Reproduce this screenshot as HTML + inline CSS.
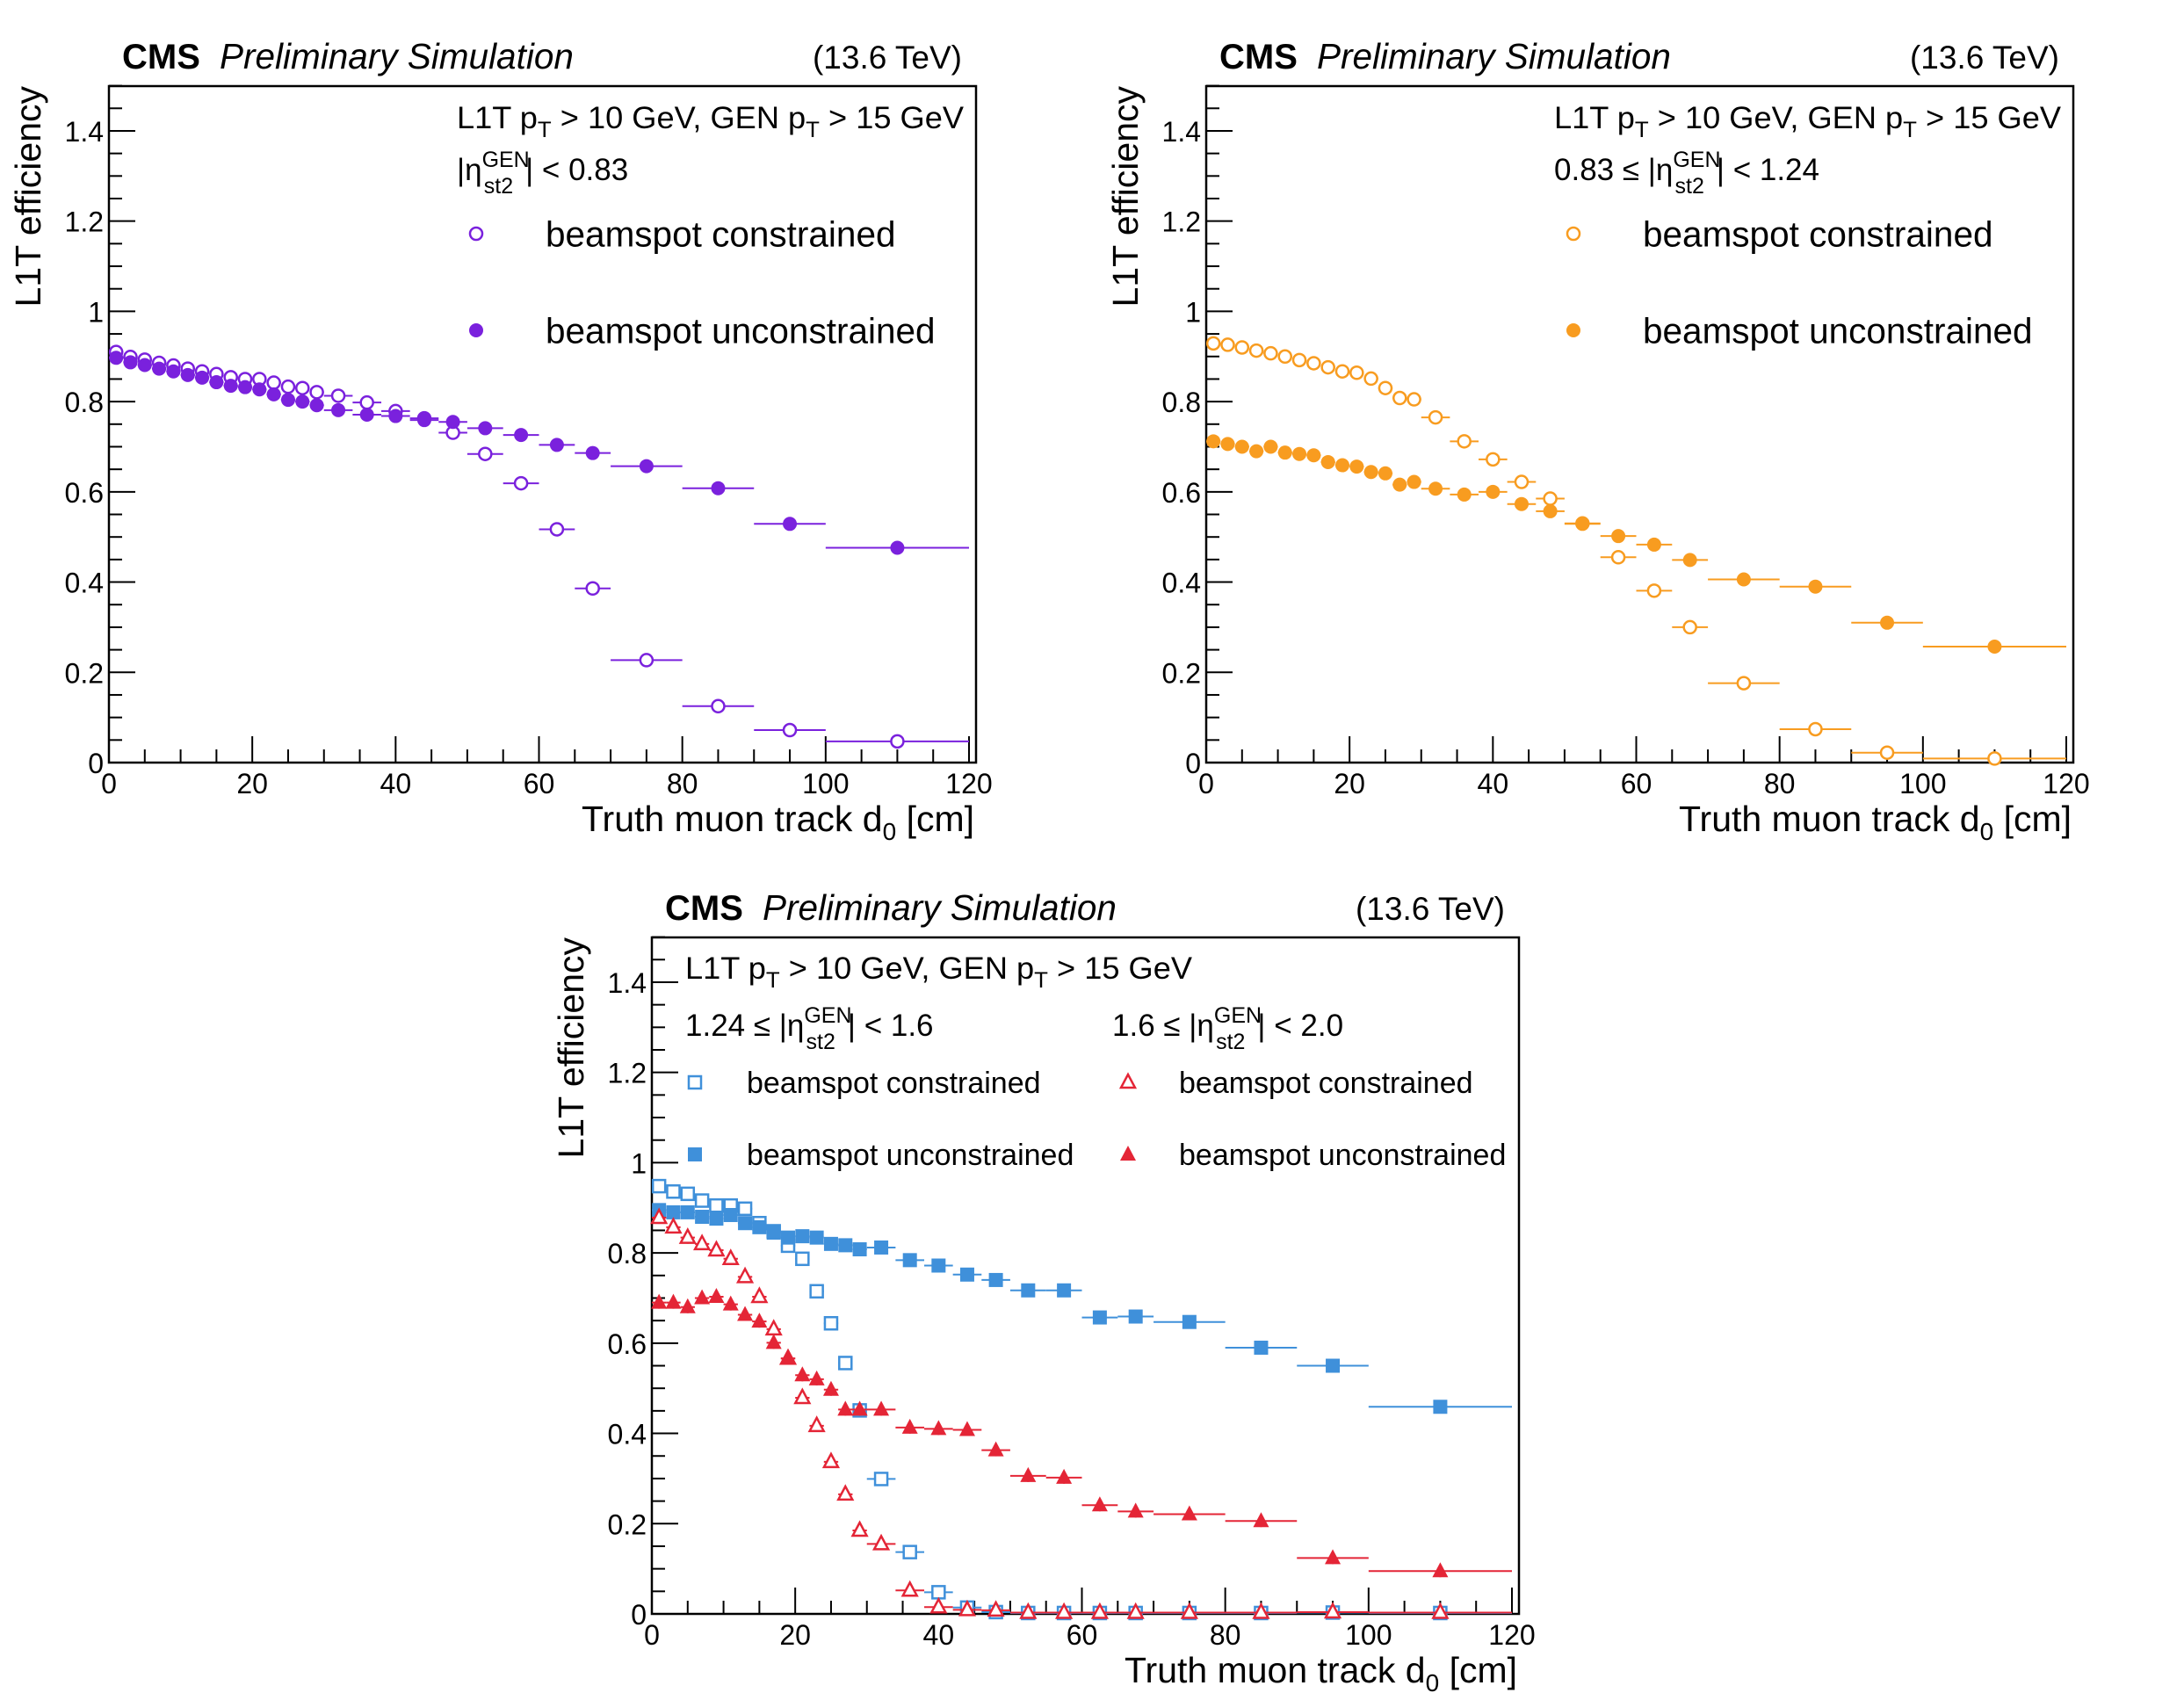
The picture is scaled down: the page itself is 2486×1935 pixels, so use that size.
<!DOCTYPE html>
<html><head><meta charset="utf-8"><style>
html,body{margin:0;padding:0;background:#fff;}
svg{display:block;font-family:"Liberation Sans",Arial,sans-serif;}
</style></head><body>
<svg id="chart" width="2486" height="1935" viewBox="0 0 2486 1935" xmlns="http://www.w3.org/2000/svg"></svg>
<script>
// ---- data ----
const binCenters = [1,3,5,7,9,11,13,15,17,19,21,23,25,27,29,32,36,40,44,48,52.5,57.5,62.5,67.5,75,85,95,110];
const binHalfWidths = [1,1,1,1,1,1,1,1,1,1,1,1,1,1,1,2,2,2,2,2,2.5,2.5,2.5,2.5,5,5,5,10];
const xTicks = [0,20,40,60,80,100,120];
const yTicks = [0,0.2,0.4,0.6,0.8,1,1.2,1.4];
const yTickLabels = ["0","0.2","0.4","0.6","0.8","1","1.2","1.4"];

const p1Constrained = [0.91,0.899,0.893,0.886,0.88,0.873,0.867,0.861,0.854,0.85,0.85,0.842,0.833,0.83,0.821,0.813,0.798,0.779,0.763,0.731,0.684,0.619,0.517,0.386,0.227,0.125,0.072,0.047];
const p1Unconstrained = [0.897,0.887,0.881,0.873,0.867,0.859,0.853,0.843,0.835,0.832,0.827,0.816,0.804,0.8,0.792,0.781,0.771,0.768,0.759,0.755,0.741,0.726,0.704,0.686,0.657,0.608,0.529,0.476];
const p2Constrained = [0.929,0.926,0.92,0.913,0.907,0.9,0.892,0.885,0.876,0.867,0.864,0.851,0.83,0.808,0.805,0.765,0.712,0.672,0.622,0.585,0.53,0.455,0.381,0.3,0.176,0.074,0.022,0.009];
const p2Unconstrained = [0.712,0.706,0.7,0.69,0.7,0.687,0.684,0.681,0.666,0.659,0.656,0.644,0.641,0.616,0.622,0.607,0.594,0.6,0.573,0.557,0.529,0.502,0.483,0.449,0.406,0.39,0.31,0.257];
const p3BlueConstrained = [0.948,0.936,0.931,0.916,0.905,0.905,0.898,0.866,0.848,0.816,0.787,0.715,0.644,0.556,0.451,0.299,0.137,0.048,0.014,0.004,0.002,0.002,0.002,0.002,0.002,0.002,0.003,0.002];
const p3BlueUnconstrained = [0.895,0.89,0.89,0.88,0.876,0.884,0.866,0.857,0.845,0.834,0.837,0.834,0.82,0.817,0.808,0.812,0.784,0.772,0.752,0.74,0.717,0.717,0.657,0.659,0.647,0.59,0.55,0.459];
const p3RedConstrained = [0.878,0.857,0.834,0.82,0.806,0.787,0.747,0.703,0.631,0.566,0.479,0.417,0.337,0.265,0.185,0.155,0.052,0.015,0.009,0.008,0.003,0.003,0.003,0.003,0.003,0.003,0.004,0.003];
const p3RedUnconstrained = [0.69,0.69,0.68,0.7,0.703,0.686,0.663,0.648,0.601,0.566,0.529,0.52,0.497,0.453,0.453,0.453,0.413,0.41,0.408,0.363,0.306,0.302,0.241,0.227,0.221,0.206,0.124,0.095];

const NS="http://www.w3.org/2000/svg";
const svg=document.getElementById('chart');
function mk(tag,attrs,parent){const e=document.createElementNS(NS,tag);for(const k in attrs)e.setAttribute(k,attrs[k]);(parent||svg).appendChild(e);return e;}

const W=987,H=770;
const PXU=979/120, PYU=513.6;

function marker(g,type,color,cx,cy){
  let m;
  if(type==='circleOpen') m=mk('circle',{cx:cx,cy:cy,r:7,fill:'#fff',stroke:color,'stroke-width':2.5},g);
  else if(type==='circle') m=mk('circle',{cx:cx,cy:cy,r:8,fill:color},g);
  else if(type==='squareOpen') m=mk('rect',{x:cx-7,y:cy-7,width:14,height:14,fill:'#fff',stroke:color,'stroke-width':2.5},g);
  else if(type==='square') m=mk('rect',{x:cx-8,y:cy-8,width:16,height:16,fill:color},g);
  else if(type==='triOpen') m=mk('polygon',{points:`${cx},${cy-9} ${cx-8},${cy+6} ${cx+8},${cy+6}`,fill:'#fff',stroke:color,'stroke-width':2.5},g);
  else m=mk('polygon',{points:`${cx},${cy-10} ${cx-9},${cy+7} ${cx+9},${cy+7}`,fill:color},g);
  return m;
}

function panel(id,ox,oy,series,legend){
  const g=mk('g',{});
  
  
  const xs=v=>ox+v*PXU, ys=v=>oy+H-v*PYU;
  const t1=mk('text',{x:ox+15,y:oy-20,'font-size':40,'font-weight':'bold'},g);t1.textContent='CMS';
  
  const t2=mk('text',{x:ox+126,y:oy-20,'font-size':40.5,'font-style':'italic'},g);t2.textContent='Preliminary Simulation';
  
  const t3=mk('text',{x:ox+W-16,y:oy-20,'font-size':37,'text-anchor':'end'},g);t3.textContent='(13.6 TeV)';
  
  const fr=mk('rect',{x:ox,y:oy,width:W,height:H,fill:'none',stroke:'#000','stroke-width':2.5},g);
  
  for(let v=0;v<=1.5001;v+=0.05){
    const major=Math.abs(v/0.2-Math.round(v/0.2))<1e-6;
    mk('line',{x1:ox,x2:ox+(major?30:15),y1:ys(v),y2:ys(v),stroke:'#000','stroke-width':2},g);
  }
  yTicks.forEach((v,i)=>{const t=mk('text',{x:ox-6,y:ys(v)+12,'font-size':32,'text-anchor':'end'},g);t.textContent=yTickLabels[i];
    });
  for(let v=0;v<=120;v+=5){
    const major=v%20===0;
    mk('line',{x1:xs(v),x2:xs(v),y1:oy+H,y2:oy+H-(major?30:15),stroke:'#000','stroke-width':2},g);
  }
  xTicks.forEach(v=>{const t=mk('text',{x:xs(v),y:oy+H+35,'font-size':32,'text-anchor':'middle'},g);t.textContent=String(v);
    });
  const xt=mk('text',{x:ox+W-2,y:oy+H+78,'font-size':41,'text-anchor':'end'},g);
  
  xt.innerHTML='Truth muon track d<tspan font-size="28" dy="10">0</tspan><tspan dy="-10"> [cm]</tspan>';
  const yt=mk('text',{x:0,y:0,'font-size':41,'text-anchor':'end',transform:`translate(${ox-78},${oy}) rotate(-90)`},g);
  yt.textContent='L1T efficiency';
  
  series.forEach(s=>{
    const sg=mk('g',{},g);
    
    
    s.vals.forEach((v,i)=>{
      const cx=xs(binCenters[i]),cy=ys(v);
      mk('line',{x1:xs(binCenters[i]-binHalfWidths[i]),x2:xs(Math.min(binCenters[i]+binHalfWidths[i],120)),y1:cy,y2:cy,stroke:s.color,'stroke-width':2},sg);
      mk('line',{x1:cx,x2:cx,y1:cy-7,y2:cy+7,stroke:s.color,'stroke-width':2},sg);
      const m=marker(sg,s.type,s.color,cx,cy);
      
      
    });
  });
  legend(g,ox,oy);
}

const PURPLE='#7a21dd',ORANGE='#f89c20',BLUE='#3f90da',RED='#e42536';
function header(g,x,y){
  const h=mk('text',{x:x,y:y,'font-size':35,textLength:577,lengthAdjust:'spacingAndGlyphs'},g);
  
  h.innerHTML='L1T p<tspan dy="10" font-size="25">T</tspan><tspan dy="-10"> &gt; 10 GeV, GEN p</tspan><tspan dy="10" font-size="25">T</tspan><tspan dy="-10"> &gt; 15 GeV</tspan>';
}
function etaLine(g,x,y,pre,post,name){
  const e=mk('text',{x:x,y:y,'font-size':35},g);
  
  e.innerHTML=pre+'|η<tspan dy="-15" font-size="25">GEN</tspan><tspan dx="-52" dy="30" font-size="25">st2</tspan><tspan dx="14" dy="-15">| '+post+'</tspan>';
}
function legEntry(g,x,y,type,color,tx,label,fs,name){
  const m=marker(g,type,color,x,y);
  
  const t=mk('text',{x:tx,y:y+fs*0.36,'font-size':fs},g);t.textContent=label;
  
}

panel('panel-barrel',124,98,[
  {name:'series-constrained',vals:p1Constrained,color:PURPLE,type:'circleOpen'},
  {name:'series-unconstrained',vals:p1Unconstrained,color:PURPLE,type:'circle'}
],(g,ox,oy)=>{
  header(g,ox+396,oy+48);
  etaLine(g,ox+396,oy+107,'','&lt; 0.83','eta-range-label');
  legEntry(g,ox+418,oy+168,'circleOpen',PURPLE,ox+497,'beamspot constrained',40.5,'legend-constrained');
  legEntry(g,ox+418,oy+278,'circle',PURPLE,ox+497,'beamspot unconstrained',40.5,'legend-unconstrained');
});

panel('panel-overlap',1373,98,[
  {name:'series-constrained',vals:p2Constrained,color:ORANGE,type:'circleOpen'},
  {name:'series-unconstrained',vals:p2Unconstrained,color:ORANGE,type:'circle'}
],(g,ox,oy)=>{
  header(g,ox+396,oy+48);
  etaLine(g,ox+396,oy+107,'0.83 ≤ ','&lt; 1.24','eta-range-label');
  legEntry(g,ox+418,oy+168,'circleOpen',ORANGE,ox+497,'beamspot constrained',40.5,'legend-constrained');
  legEntry(g,ox+418,oy+278,'circle',ORANGE,ox+497,'beamspot unconstrained',40.5,'legend-unconstrained');
});

panel('panel-endcap',742,1067,[
  {name:'series-blue-constrained',vals:p3BlueConstrained,color:BLUE,type:'squareOpen'},
  {name:'series-blue-unconstrained',vals:p3BlueUnconstrained,color:BLUE,type:'square'},
  {name:'series-red-constrained',vals:p3RedConstrained,color:RED,type:'triOpen'},
  {name:'series-red-unconstrained',vals:p3RedUnconstrained,color:RED,type:'tri'}
],(g,ox,oy)=>{
  header(g,ox+38,oy+47);
  etaLine(g,ox+38,oy+112,'1.24 ≤ ','&lt; 1.6','eta-range-left-label');
  etaLine(g,ox+524,oy+112,'1.6 ≤ ','&lt; 2.0','eta-range-right-label');
  legEntry(g,ox+49,oy+165,'squareOpen',BLUE,ox+108,'beamspot constrained',34,'legend-blue-constrained');
  legEntry(g,ox+49,oy+247,'square',BLUE,ox+108,'beamspot unconstrained',34,'legend-blue-unconstrained');
  legEntry(g,ox+542,oy+165,'triOpen',RED,ox+600,'beamspot constrained',34,'legend-red-constrained');
  legEntry(g,ox+542,oy+247,'tri',RED,ox+600,'beamspot unconstrained',34,'legend-red-unconstrained');
});
</script>
</body></html>
